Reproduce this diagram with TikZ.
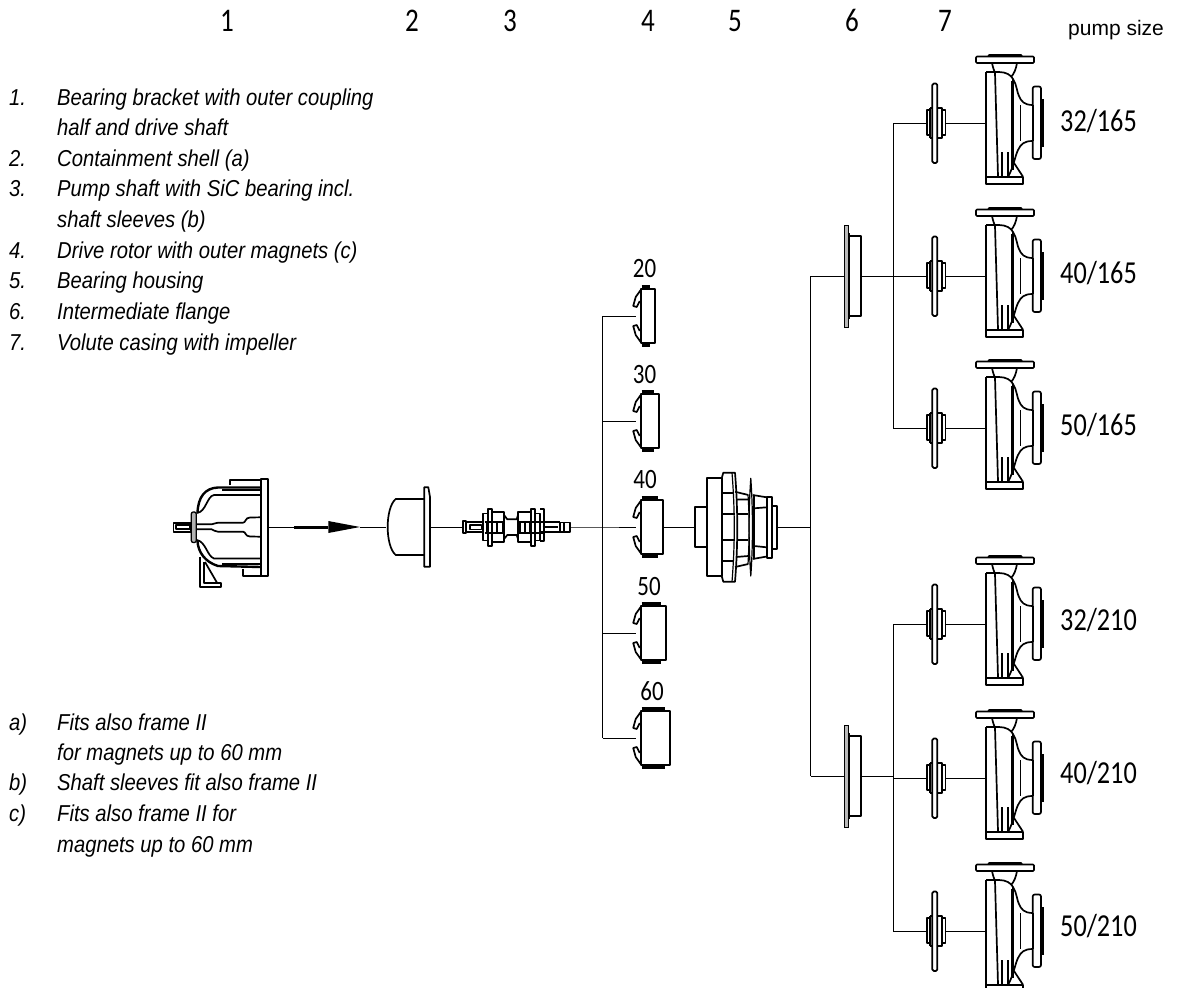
\documentclass[tikz,border=0pt]{standalone}
\usepackage{fontspec}
\setmainfont{Liberation Sans}
\newfontfamily\cad[FakeStretch=0.82]{Carlito}
\newfontfamily\listfont[FakeStretch=0.88]{Liberation Sans}
\tikzset{
  outl/.style={draw=black,line width=1.7pt,line join=round,fill=none},
  slim/.style={draw=black,line width=1.2pt,line join=round,fill=none},
  thk/.style={draw=black,line width=3pt,line cap=round},
  thin/.style={draw=black,line width=0.7pt},
  conn/.style={draw=black,line width=1pt},
  list/.style={anchor=base west,inner sep=0pt,font=\listfont\fontsize{23}{26}\selectfont\itshape},
  bignum/.style={anchor=base,inner sep=0pt,font=\cad\fontsize{33}{36}\selectfont},
  sizelab/.style={anchor=base west,inner sep=0pt,font=\cad\fontsize{32}{36}\selectfont},
  maglab/.style={anchor=base,inner sep=0pt,font=\cad\fontsize{28}{30}\selectfont},
  pumppic/.pic={
    \draw[outl,rounded corners=1pt] (-10,-66.5) rectangle (48,-60);
    \draw[thk] (3,-68) -- (35,-68);
    \draw[outl] (0,-51) -- (0,55);
    \draw[outl] (6,-60) .. controls (7,-55) and (8,-53) .. (9,-50) -- (12,53);
    \draw[outl] (31,-60) .. controls (30,-54) and (28,-49) .. (25,-46);
    \draw[outl] (0,-51) -- (13,-51) .. controls (20,-51) and (25,-48) .. (27,-44)
      .. controls (31,-38) and (31,-30) .. (33,-27) .. controls (35,-22) and (38,-18) .. (46.7,-18);
    \draw[outl] (46.7,18) .. controls (38,18) and (35,21) .. (32,27)
      .. controls (29,33) and (28,43) .. (22,54);
    \draw[outl] (27,-44) -- (27,47);
    \draw[thin] (34,-18) -- (34,18) (25.7,-42) -- (25.7,46);
    \draw[outl] (16.3,29) -- (16.3,54) (21.7,29) -- (21.7,54);
    \draw[outl] (-0.3,53.7) rectangle (37,61);
    \draw[outl] (37,53.7) -- (28,40);
    \draw[outl,rounded corners=2pt] (46.7,-18) -- (46.7,-36.5) -- (55,-36.5) -- (55,36) -- (46.7,36) -- (46.7,18);
    \draw[outl] (46.7,-18) -- (46.7,18);
    \draw[outl] (56.7,-24) -- (56.7,24);
    \draw[outl,rounded corners=1.5pt] (-53.7,-39.5) -- (-48.7,-39.5) -- (-48.7,-16) -- (-48.7,40) -- (-53.7,40) -- cycle;
    \draw[outl] (-59.3,-12.7) -- (-56,-12.7) -- (-56,12) -- (-59.3,12) -- cycle;
    \draw[outl] (-44,-12.7) -- (-40.5,-12.7) -- (-40.5,12) -- (-44,12) -- cycle;
    \draw[outl] (-56,-15) -- (-53.7,-15) (-56,15) -- (-53.7,15) (-48.7,-15) -- (-44,-15) -- (-44,-12.7) (-48.7,15) -- (-44,15) -- (-44,12) (-56,-15) -- (-56,-12.7) (-56,15) -- (-56,12);
  },
  flangepic/.pic={
    \fill[gray!55] (-7.7,-50.3) rectangle (-3.7,51.3);
    \draw[line width=1.2pt] (-7.7,-50.3) rectangle (-3.7,51.3);
    \draw[outl] (-3,-43) -- (-3,43);
    \draw[outl] (-2.7,-40) -- (8.7,-40) -- (8.7,40) -- (-2.7,40);
  },
}
\newcommand{\magnet}[2]{%
  \begin{scope}[shift={(640.7,#1)}]
    \draw[outl] (0,-27) rectangle (#2,27);
    \draw[line width=3.2pt] (1,-29.3) -- ({#2-5},-29.3);
    \draw[line width=3.2pt] (1,29.3) -- ({#2-5},29.3);
    \draw[outl] (0,-26) -- (-5,-19) -- (-7.5,-10) -- (-4,-9) -- (-1,-15);
    \draw[outl] (0,26) -- (-5,19) -- (-7.5,10) -- (-4,9) -- (-1,15);
  \end{scope}}
\begin{document}
\begin{tikzpicture}[x=1pt,y=-1pt]
\useasboundingbox (0,0) rectangle (1179,988);
% ---- connector coordinates
\coordinate (brk) at (268.3,527);
\coordinate (arrA) at (294,527);
\coordinate (arrB) at (328.3,527);
\coordinate (arrT) at (360,527);
\coordinate (shellL) at (386,527);
\coordinate (shellR) at (430,527);
\coordinate (shaftL) at (463.3,527);
\coordinate (shaftR) at (570,527);
\coordinate (busM) at (602.7,527);
\coordinate (busMt) at (602.7,316);
\coordinate (busMa) at (602.7,421);
\coordinate (busMb) at (602.7,633);
\coordinate (busMc) at (602.7,738);
\coordinate (m20) at (635.5,316);
\coordinate (m30) at (635.5,421);
\coordinate (m40) at (635.5,527);
\coordinate (m50) at (635.5,633);
\coordinate (m60) at (635.5,738);
\coordinate (m40R) at (662.7,527);
\coordinate (houseL) at (695,527);
\coordinate (houseR) at (777.3,527);
\coordinate (busF) at (810.7,527);
\coordinate (busFt) at (810.7,276);
\coordinate (busFb) at (810.7,776);
\coordinate (fl1L) at (844.3,276);
\coordinate (fl1R) at (860.7,276);
\coordinate (fl2L) at (844.3,776);
\coordinate (fl2R) at (860.7,776);
\foreach \n/\yy in {a/123,b/276,c/428,d/624,e/778,f/931}{
  \coordinate (p\n) at (986,\yy);
  \coordinate (b\n) at (893,\yy);
  \coordinate (i\n) at (926.7,\yy);
  \coordinate (j\n) at (945,\yy);
}
\coordinate (bj2) at (893,776);
% ---- connectors
\draw[conn] (brk) -- (arrA);
\draw[line width=3pt] (arrA) -- (arrB);
\fill (arrB) ++(0,-6) -- (arrT) -- ++(-31.7,6) -- cycle;
\draw[conn] (arrT) -- (shellL);
\draw[conn] (shellR) -- (shaftL);
\draw[conn] (shaftR) -- (busM) -- (m40);
\draw[conn] (busMt) -- (busMc);
\draw[conn] (busMt) -- (m20);
\draw[conn] (busMa) -- (m30);
\draw[conn] (busMb) -- (m50);
\draw[conn] (busMc) -- (m60);
\draw[conn] (m40R) -- (houseL);
\draw[conn] (houseR) -- (busF);
\draw[conn] (busFt) -- (busFb);
\draw[conn] (busFt) -- (fl1L);
\draw[conn] (busFb) -- (fl2L);
\draw[conn] (fl1R) -- (bb);
\draw[conn] (fl2R) -- (bj2);
\draw[conn] (ba) -- (bc);
\draw[conn] (bd) -- (bf);
\foreach \n in {a,b,c,d,e,f}{
  \draw[conn] (b\n) -- (i\n);
  \draw[conn] (j\n) -- (p\n);
}
% ---- bearing bracket
\draw[outl] (260.7,478.7) rectangle (268.3,576);
\draw[outl] (230,485) -- (230,480) -- (260.7,480);
\draw[outl] (242.7,569.3) -- (242.7,576) -- (260.7,576);
\draw[outl,line width=2.4pt] (260.7,487.5) -- (218,487.5) .. controls (205,488) and (198,497) .. (197.5,513);
\draw[outl] (260.7,490) -- (222,490);
\draw[outl] (260.7,495) -- (214,495) .. controls (207,496) and (206,512) .. (197,513);
\draw[outl,line width=2.4pt] (260.7,567) -- (218,566) .. controls (205,562) and (198,552) .. (197.5,541);
\draw[outl] (260.7,564) -- (222,564);
\draw[outl] (260.7,558.5) -- (214,558.5) .. controls (207,556) and (206,542) .. (197,540);
\draw[outl] (196.7,524.3) -- (211.7,524.3) .. controls (214,524.3) and (215,522.7) .. (218,522.7) -- (243,522.7) .. controls (246,522.7) and (245,517.5) .. (250,517.5) -- (260.7,517.3);
\draw[outl] (196.7,529.3) -- (211.7,529.3) .. controls (214,530) and (215,531.7) .. (218,531.7) -- (243,531.7) .. controls (246,531.7) and (245,536.5) .. (250,536.5) -- (260.7,536.7);
\fill[gray!60,draw=black,line width=1.3pt,rounded corners=2pt] (191.3,512) rectangle (196.3,542.5);
\draw[outl] (173.5,522.7) rectangle (191,532);
\draw[slim] (176,525) rectangle (190,529);
\draw[outl] (200,557) -- (200,587.3) -- (220.7,587.3) -- (220.7,582.7) -- (204,582.7) -- (204,562);
\draw[outl] (217,582.7) -- (205,562);
% ---- shell
\draw[outl] (424.3,499) -- (395.7,499) .. controls (385,508) and (385,546) .. (395.7,555) -- (424.3,555);
\draw[outl] (424.3,487.2) -- (428.3,487.2) -- (430,497) -- (430,566.7) -- (424.3,566.7) -- cycle;
% ---- pump shaft
\draw[outl] (463.3,521) rectangle (465.7,532.7);
\draw[outl] (465.7,522) -- (482.7,522) (465.7,532) -- (482.7,532);
\draw[slim] (470,525) -- (481.7,525) -- (481.7,529.3) -- (470,529.3) -- cycle;
\draw[outl] (482.7,513.5) rectangle (488.3,540.5);
\draw[outl] (488.3,509) rectangle (492.3,546);
\draw[outl] (492.3,512.3) rectangle (504,541.7);
\draw[outl] (484.5,522) -- (504,522) (484.5,533) -- (504,533) (487,522) -- (487,533) (491.7,522) -- (491.7,533) (497,522) -- (497,533) (503,522) -- (503,533);
\draw[outl] (504,515) -- (507.3,519.3) -- (516.7,519.3) -- (518,515);
\draw[outl] (504,539) -- (507.3,535) -- (516.7,535) -- (518,539);
\draw[outl] (518,512.3) rectangle (531,541.7);
\draw[outl] (531,509) rectangle (535,546);
\draw[outl] (535,513.5) rectangle (540,540.5);
\draw[outl] (540,509) -- (544,509) -- (544,541) -- (540,541);
\draw[outl] (518,522) -- (544,522) (518,533) -- (544,533) (520,522) -- (520,533) (525,522) -- (525,533) (530,522) -- (530,533) ;
\draw[outl] (540,522) -- (560,522) (540,532) -- (560,532);
\draw[line width=2.5pt] (542.5,527) -- (558,527);
\draw[outl] (560,522.5) rectangle (570,531.8);
\draw[outl] (564,522.5) -- (564,531.8);
% ---- magnets
\magnet{316}{14}
\magnet{421}{18}
\magnet{527}{22}
\magnet{633}{25}
\magnet{738}{29}
% ---- bearing housing
\draw[outl] (707.3,507.3) -- (695,507.3) -- (695,546.7) -- (707.3,546.7);
\draw[outl] (707.3,478.3) rectangle (721.7,576);
\draw[outl] (721.7,478.3) -- (723.3,472.7) -- (735,472.7) .. controls (738,510) and (738,545) .. (735,581.7) -- (723.3,581.7) -- (721.7,576);
\draw[slim] (732,472.7) .. controls (735,510) and (735,545) .. (732,581.7);
\draw[outl] (722,493) -- (733,493) (722,514) -- (735,514) (722,540) -- (735,540) (722,561) -- (733,561);
\draw[outl] (735,491.7) -- (748.3,495) (736,499.5) -- (748.3,499.5);
\draw[outl] (735,567) -- (748.3,564) (736,557) -- (748.3,556);
\draw[outl] (737,514) -- (748.3,514) (737,540) -- (748.3,540);
\draw[slim] (748,495) .. controls (749.5,515) and (749.5,540) .. (748,564);
\draw[slim] (750.8,478.3) .. controls (748.5,510) and (748.5,545) .. (750.8,576) .. controls (753,545) and (753,510) .. (750.8,478.3) -- cycle;
\draw[outl] (752.7,495) -- (766.7,497.3) (752.7,559) -- (766.7,556.5);
\draw[outl] (754,508.3) -- (766.7,507.3) (754,546) -- (766.7,547.3);
\draw[slim] (754,495) -- (754,559);
\draw[outl] (766.7,497.3) rectangle (772.3,558.3);
\draw[outl] (772.3,505.7) rectangle (777.3,549);
% ---- flanges and pumps
\pic at (852,276) {flangepic};
\pic at (852,776) {flangepic};
\foreach \n in {a,b,c,d,e,f}{ \pic at (p\n) {pumppic}; }
% ---- texts
\node[bignum] (h1) at (227,31) {1};
\node[bignum] (h2) at (412,31) {2};
\node[bignum] (h3) at (510,31) {3};
\node[bignum] (h4) at (648,31) {4};
\node[bignum] (h5) at (735,31) {5};
\node[bignum] (h6) at (852,31) {6};
\node[bignum] (h7) at (945,31) {7};
\node[anchor=base west,inner sep=0pt,font=\fontsize{21}{24}\selectfont] (ps) at (1068,35) {pump size};
\node[sizelab] (s1) at (1060,131) {32/165};
\node[sizelab] (s2) at (1060,283) {40/165};
\node[sizelab] (s3) at (1060,435) {50/165};
\node[sizelab] (s4) at (1060,630) {32/210};
\node[sizelab] (s5) at (1060,783) {40/210};
\node[sizelab] (s6) at (1060,936) {50/210};
\node[maglab] (l20) at (644.5,277.7) {20};
\node[maglab] (l30) at (644.5,383) {30};
\node[maglab] (l40) at (645,488) {40};
\node[maglab] (l50) at (649,595) {50};
\node[maglab] (l60) at (652,700.7) {60};
\foreach \k/\yy/\a/\b in {
 A/105/1./Bearing bracket with outer coupling,
 B/135.6//half and drive shaft,
 C/166.2/2./Containment shell (a),
 D/196.9/3./Pump shaft with SiC bearing incl.,
 E/227.5//shaft sleeves (b),
 F/258.1/4./Drive rotor with outer magnets (c),
 G/288.8/5./Bearing housing,
 H/319.4/6./Intermediate flange,
 I/350/7./Volute casing with impeller,
 J/730/a)/Fits also frame II,
 K/760.7//for magnets up to 60 mm,
 L/790.7/b)/Shaft sleeves fit also frame II,
 M/821.7/c)/Fits also frame II for,
 N/852.7//magnets up to 60 mm}{
  \node[list] (n\k) at (9,\yy) {\a};
  \node[list] (t\k) at (57,\yy) {\b};
}
\end{tikzpicture}
\end{document}
